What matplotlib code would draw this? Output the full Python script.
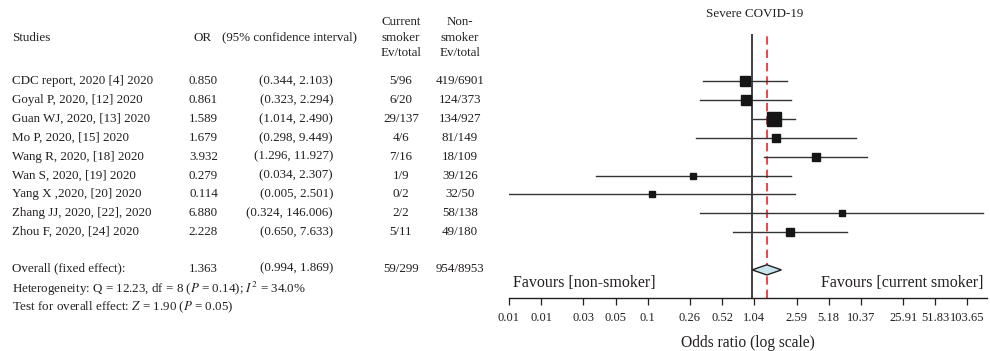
import matplotlib
matplotlib.use("Agg")
import matplotlib.pyplot as plt
import matplotlib.transforms as mtransforms
import numpy as np

plt.rcParams['font.family'] = ['Liberation Serif', 'DejaVu Serif']
plt.rcParams['mathtext.fontset'] = 'stix'

# study level data
studies = ["CDC report, 2020 [4] 2020", "Goyal P, 2020, [12] 2020", "Guan WJ, 2020, [13] 2020",
           "Mo P, 2020, [15] 2020", "Wang R, 2020, [18] 2020", "Wan S, 2020, [19] 2020",
           "Yang X ,2020, [20] 2020", "Zhang JJ, 2020, [22], 2020", "Zhou F, 2020, [24] 2020"]
odds = [0.850, 0.861, 1.589, 1.679, 3.932, 0.279, 0.114, 6.880, 2.228]
ci_lo = [0.344, 0.323, 1.014, 0.298, 1.296, 0.034, 0.005, 0.324, 0.650]
ci_hi = [2.103, 2.294, 2.490, 9.449, 11.927, 2.307, 2.501, 146.006, 7.633]
smoker_ev = ["5/96", "6/20", "29/137", "4/6", "7/16", "1/9", "0/2", "2/2", "5/11"]
nonsmoker_ev = ["419/6901", "124/373", "134/927", "81/149", "18/109", "39/126", "32/50", "58/138", "49/180"]

# pooled result
overall_or = 1.363
overall_lo = 0.994
overall_hi = 1.869
overall_smoker = "59/299"
overall_nonsmoker = "954/8953"

tick_vals = [0.00518, 0.01036, 0.0259, 0.0518, 0.1036, 0.259, 0.518, 1.0365,
             2.59, 5.18, 10.37, 25.91, 51.83, 103.65]
tick_labels = ["0.01", "0.01", "0.03", "0.05", "0.1", "0.26", "0.52", "1.04",
               "2.59", "5.18", "10.37", "25.91", "51.83", "103.65"]

ink = "#231f20"
W, H = 990, 351

fig = plt.figure(figsize=(W / 100, H / 100), dpi=100)

# forest panel, rows measured downward from the top
x0, x1 = 509, 987
y_top, y_bot = 34, 298
ax = fig.add_axes([x0 / W, 1 - y_bot / H, (x1 - x0) / W, (y_bot - y_top) / H])
ax.set_xscale('log')
ax.set_xlim(0.00518, 159)
ax.set_ylim(11.49, -2.5)

# box size from inverse-variance weight
se = (np.log(ci_hi) - np.log(ci_lo)) / (2 * 1.96)
weights = 1 / se ** 2
for i in range(len(studies)):
    ax.plot([ci_lo[i], ci_hi[i]], [i, i], color="#333333", lw=1.0, zorder=2)
    ax.plot(odds[i], i, marker='s', color="#161616", ms=4.8 * weights[i] ** 0.25, zorder=3)

ax.axvline(1.0, color=ink, lw=1.2, zorder=1)
ax.axvline(overall_or, color="#e8262b", lw=1.2, ls=(0, (5, 3)), zorder=1)

yd = 10.0
ax.fill([overall_lo, overall_or, overall_hi, overall_or], [yd, yd - 0.27, yd, yd + 0.27],
        facecolor="#c8e4ef", edgecolor=ink, lw=1.0, zorder=4)

ax.text(0.0056, 10.7, "Favours [non-smoker]", fontsize=11.5, color=ink, va='center', ha='left')
ax.text(148, 10.7, "Favours [current smoker]", fontsize=11.5, color=ink, va='center', ha='right')

for s in ['top', 'right', 'left']:
    ax.spines[s].set_visible(False)
ax.spines['bottom'].set_color(ink)
ax.spines['bottom'].set_linewidth(1.0)
ax.set_yticks([])
ax.set_xticks(tick_vals)
ax.set_xticklabels(tick_labels)
ax.minorticks_off()
ax.tick_params(axis='x', length=5, width=0.9, color=ink, labelsize=9, labelcolor=ink, pad=5)
ax.set_xlabel("Odds ratio (log scale)", fontsize=11.2, color=ink, labelpad=8)

fig.text(755 / W, 1 - 14 / H, "Severe COVID-19", fontsize=9.4, color=ink, ha='center', va='center')

# table on the left shares the row positions of the forest panel
tr = mtransforms.blended_transform_factory(fig.transFigure, ax.transData)
fs = 9.4


def cell(x, y, s, ha='left'):
    fig.text(x / W, y, s, transform=tr, fontsize=fs, color=ink, ha=ha, va='center')


cell(12, -2.3, "Studies")
cell(203, -2.3, "OR", ha='center')
cell(222, -2.3, "(95% confidence interval)")
for y, s in zip([-3.15, -2.3, -1.5], ["Current", "smoker", "Ev/total"]):
    cell(401, y, s, ha='center')
for y, s in zip([-3.15, -2.3, -1.5], ["Non-", "smoker", "Ev/total"]):
    cell(460, y, s, ha='center')

for i in range(len(studies)):
    cell(12, i, studies[i])
    cell(218, i, f"{odds[i]:.3f}", ha='right')
    cell(333, i, f"({ci_lo[i]:.3f}, {ci_hi[i]:.3f})", ha='right')
    cell(401, i, smoker_ev[i], ha='center')
    cell(460, i, nonsmoker_ev[i], ha='center')

cell(12, 9.94, "Overall (fixed effect):")
cell(218, 9.94, f"{overall_or:.3f}", ha='right')
cell(333, 9.94, f"({overall_lo:.3f}, {overall_hi:.3f})", ha='right')
cell(401, 9.94, overall_smoker, ha='center')
cell(460, 9.94, overall_nonsmoker, ha='center')
cell(12, 11.0, "Heterogeneity: Q = 12.23, df = 8 ($P$ = 0.14); $I^2$ = 34.0%")
cell(12, 11.96, "Test for overall effect: $Z$ = 1.90 ($P$ = 0.05)")

fig.savefig("out.png", dpi=100)
